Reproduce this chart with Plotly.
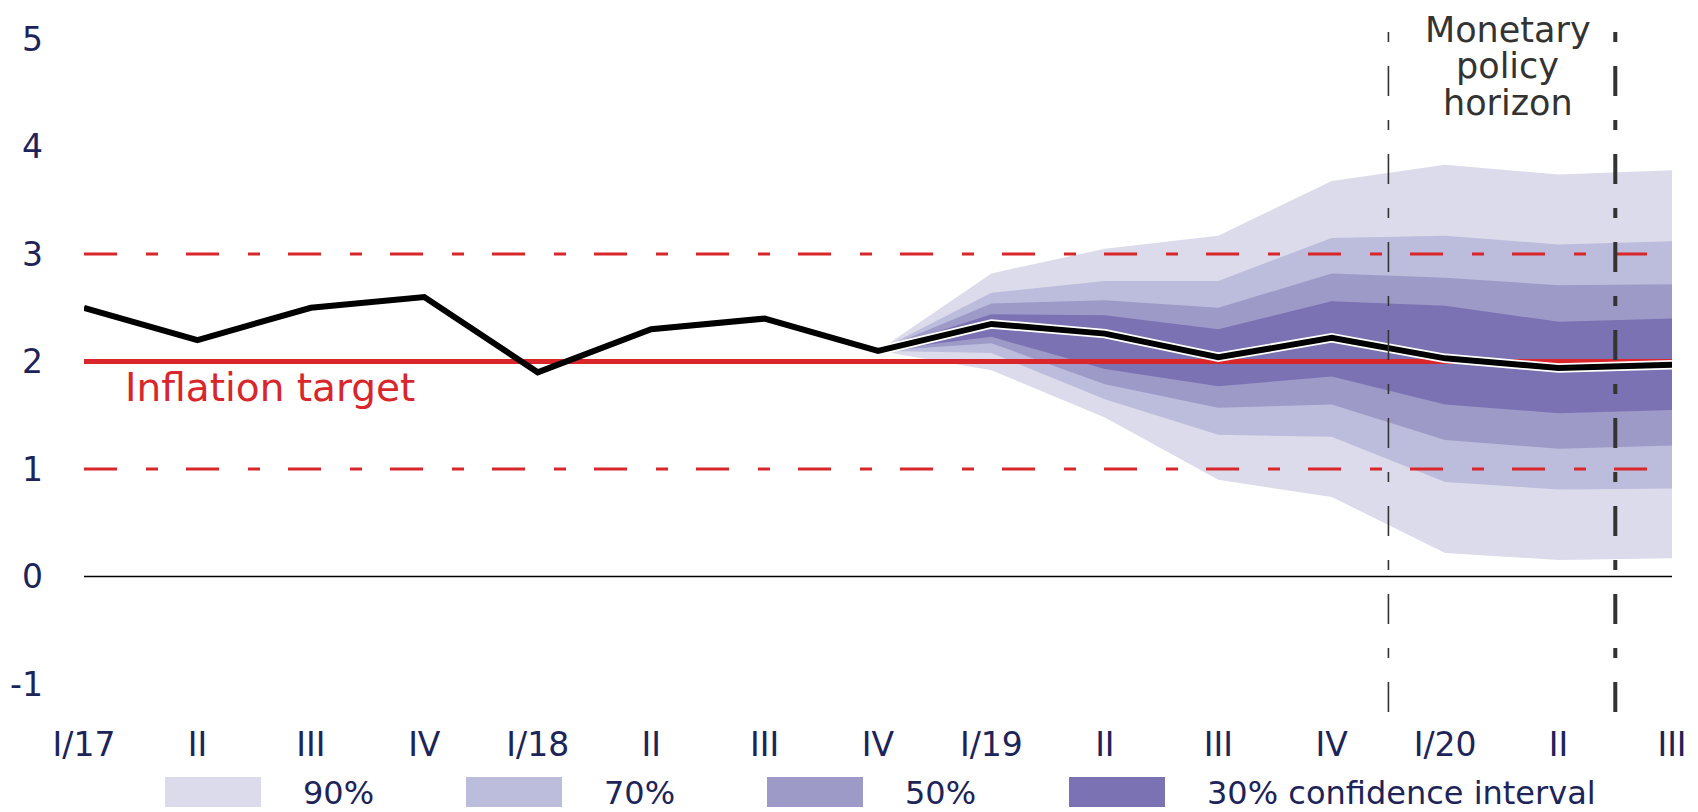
import plotly.graph_objects as go

# ---------------- data ----------------
quarters = ["I/17", "II", "III", "IV", "I/18", "II", "III", "IV",
            "I/19", "II", "III", "IV", "I/20", "II", "III"]
inflation = [2.5, 2.2, 2.5, 2.6, 1.9, 2.3, 2.4, 2.1,
             2.35, 2.26, 2.04, 2.22, 2.03, 1.94, 1.97]

# forecast fan (from IV/18 to III/20)
fan_start = 7
upper_90 = [2.1, 2.82, 3.05, 3.17, 3.68, 3.83, 3.74, 3.78]
upper_70 = [2.1, 2.64, 2.75, 2.75, 3.15, 3.17, 3.09, 3.12]
upper_50 = [2.1, 2.54, 2.57, 2.50, 2.82, 2.78, 2.71, 2.72]
upper_30 = [2.1, 2.44, 2.43, 2.30, 2.56, 2.52, 2.37, 2.40]
lower_30 = [2.1, 2.23, 1.93, 1.77, 1.86, 1.60, 1.52, 1.55]
lower_50 = [2.1, 2.17, 1.79, 1.57, 1.60, 1.27, 1.19, 1.22]
lower_70 = [2.1, 2.08, 1.65, 1.32, 1.30, 0.88, 0.81, 0.82]
lower_90 = [2.1, 1.92, 1.48, 0.90, 0.74, 0.22, 0.155, 0.17]

band_labels = ["90%", "70%", "50%", "30% confidence interval"]
band_colors = ["#dcdbeb", "#bcbcdc", "#9e9ac8", "#7b72b3"]

target = 2.0
tolerance_upper = 3.0
tolerance_lower = 1.0
horizon_lines = [11.5, 13.5]
y_ticks = [-1, 0, 1, 2, 3, 4, 5]

# ---------------- figure ----------------
NAVY = "#1c2459"
RED = "#d8262b"
GRAY = "#333333"
FONT = "DejaVu Sans"

# page has an 8px body margin: size the figure to fit the window
OFF = 8
W, H = 1698 - OFF, 812 - OFF
# plot area in window pixels: x 84..1672, y 31..712
L, R, T, B = 84 - OFF, 1698 - 1672, 31 - OFF, 812 - 712
PW, PH = W - L - R, H - T - B


def px_to_paper_x(px):  # window px -> paper
    return (px - OFF - L) / PW


def py_to_paper_y(py):  # window px -> paper
    return (T + PH - (py - OFF)) / PH


x_all = list(range(len(quarters)))
x_fan = x_all[fan_start:]

fig = go.Figure()

bands = [(upper_90, lower_90), (upper_70, lower_70),
         (upper_50, lower_50), (upper_30, lower_30)]
for (up, lo), col, lab in zip(bands, band_colors, band_labels):
    fig.add_trace(go.Scatter(
        x=x_fan + x_fan[::-1], y=up + lo[::-1],
        fill="toself", fillcolor=col, mode="lines",
        line=dict(width=0, color=col), name=lab, showlegend=False,
        hoverinfo="skip"))

# tolerance band lines and target
for yv in (tolerance_upper, tolerance_lower):
    fig.add_trace(go.Scatter(
        x=[x_all[0], x_all[-1]], y=[yv, yv], mode="lines",
        line=dict(color=RED, width=3, dash="33px,29px,12px,28px"),
        showlegend=False, hoverinfo="skip"))
fig.add_trace(go.Scatter(
    x=[x_all[0], x_all[-1]], y=[target, target], mode="lines",
    line=dict(color=RED, width=5), showlegend=False, hoverinfo="skip"))

# inflation line (white halo + black)
fig.add_trace(go.Scatter(
    x=x_fan, y=inflation[fan_start:], mode="lines",
    line=dict(color="white", width=9.5), showlegend=False, hoverinfo="skip"))
fig.add_trace(go.Scatter(
    x=x_all, y=inflation, mode="lines",
    line=dict(color="black", width=6), showlegend=False, name="Inflation"))

# zero line
fig.add_trace(go.Scatter(
    x=[x_all[0], x_all[-1]], y=[0, 0], mode="lines",
    line=dict(color="black", width=1.5), showlegend=False, hoverinfo="skip"))

# monetary policy horizon lines
for xv, w in zip(horizon_lines, [1.6, 4]):
    fig.add_shape(type="line", x0=xv, x1=xv, y0=0, y1=1,
                  xref="x", yref="paper",
                  line=dict(color=GRAY, width=w, dash="30px,24px,10px,24px"),
                  layer="above")

# annotations
fig.add_annotation(x=0.34, y=1.76, xref="x", yref="y", text="Inflation target",
                   showarrow=False, xanchor="left", yanchor="middle",
                   font=dict(family=FONT, size=39, color=RED))
for txt, py in zip(["Monetary", "policy", "horizon"], [30, 66, 103]):
    fig.add_annotation(x=12.55, y=py_to_paper_y(py), xref="x", yref="paper",
                       text=txt, showarrow=False, borderpad=0,
                       xanchor="center", yanchor="middle",
                       font=dict(family=FONT, size=35, color=GRAY))

# manual legend
sw_x = [165, 466, 767, 1069]
txt_x = [301, 602, 903, 1205]
for sx, tx, col, lab in zip(sw_x, txt_x, band_colors, band_labels):
    fig.add_shape(type="rect", xref="paper", yref="paper",
                  x0=px_to_paper_x(sx), x1=px_to_paper_x(sx + 96),
                  y0=py_to_paper_y(807), y1=py_to_paper_y(777),
                  fillcolor=col, line=dict(width=0))
    fig.add_annotation(x=px_to_paper_x(tx), y=py_to_paper_y(793),
                       xref="paper", yref="paper", text=lab, showarrow=False,
                       xanchor="left", yanchor="middle",
                       font=dict(family=FONT, size=32, color=NAVY))

fig.update_layout(
    width=W, height=H,
    margin=dict(l=L, r=R, t=T, b=B, autoexpand=False),
    plot_bgcolor="white", paper_bgcolor="white",
    showlegend=False,
    font=dict(family=FONT, color=NAVY),
    xaxis=dict(range=[0, 14], tickvals=x_all, ticktext=quarters,
               showgrid=False, zeroline=False, showline=False, ticks="",
               automargin=False,
               tickfont=dict(family=FONT, size=33, color=NAVY),
               ticklabelstandoff=10),
    yaxis=dict(range=[-1.26, 5.075], tickvals=y_ticks,
               ticktext=[str(v) for v in y_ticks],
               showgrid=False, zeroline=False, showline=False, ticks="",
               automargin=False,
               tickfont=dict(family=FONT, size=33, color=NAVY),
               ticklabelstandoff=40),
)

fig.write_html("out.html")
